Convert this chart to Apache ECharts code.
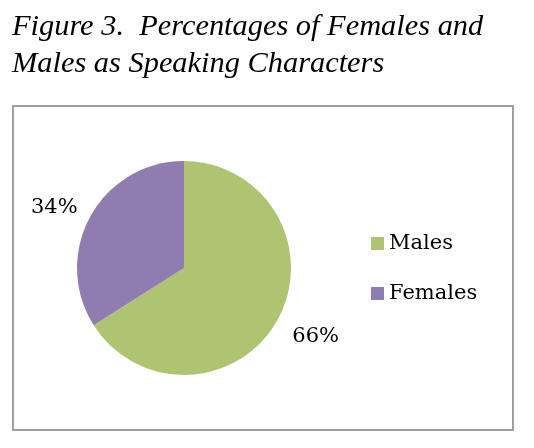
<!DOCTYPE html>
<html>
<head>
<meta charset="UTF-8">
<title>Figure 3</title>
<script src="https://cdn.jsdelivr.net/npm/echarts@6/dist/echarts.min.js"></script>
<style>
  html, body { margin: 0; padding: 0; background: #fff; }
  #main { width: 534px; height: 448px; }
</style>
</head>
<body>
<div id="main"></div>
<script>
// data
var categories = ['Males', 'Females'];
var percentages = [66, 34];
var colors = ['#AEC473', '#917CAF'];

// per-slice label offsets (label line is hidden, only used to place the text)
var labelLen = [36, 19];
var labelDist = [-17, -4];

var chart = echarts.init(document.getElementById('main'));

var pieData = categories.map(function (name, i) {
  return {
    name: name,
    value: percentages[i],
    itemStyle: { color: colors[i] },
    labelLine: { show: false, length: labelLen[i], length2: 0 },
    label: { distanceToLabelLine: labelDist[i] }
  };
});

var option = {
  backgroundColor: '#fff',
  animation: false,
  title: {
    text: 'Figure 3.  Percentages of Females and\nMales as Speaking Characters',
    left: 7,
    top: 4,
    textStyle: {
      fontFamily: 'Liberation Serif',
      fontStyle: 'italic',
      fontWeight: 'normal',
      fontSize: 30.4,
      lineHeight: 37,
      color: '#000'
    }
  },
  graphic: [{
    type: 'rect',
    shape: { x: 13, y: 106, width: 500, height: 324 },
    style: { fill: 'none', stroke: '#a0a0a0', lineWidth: 2 },
    silent: true
  }],
  legend: {
    orient: 'vertical',
    left: 371,
    top: 233,
    padding: 0,
    icon: 'rect',
    itemWidth: 13,
    itemHeight: 13,
    itemGap: 29,
    data: categories,
    textStyle: {
      fontFamily: 'DejaVu Serif',
      fontSize: 21,
      color: '#000'
    }
  },
  series: [{
    type: 'pie',
    center: [184, 268],
    radius: 107,
    startAngle: 90,
    clockwise: true,
    avoidLabelOverlap: false,
    label: {
      show: true,
      position: 'outside',
      formatter: '{c}%',
      fontFamily: 'DejaVu Serif',
      fontSize: 21,
      color: '#000'
    },
    emphasis: { disabled: true },
    data: pieData
  }]
};

chart.setOption(option);
</script>
</body>
</html>
